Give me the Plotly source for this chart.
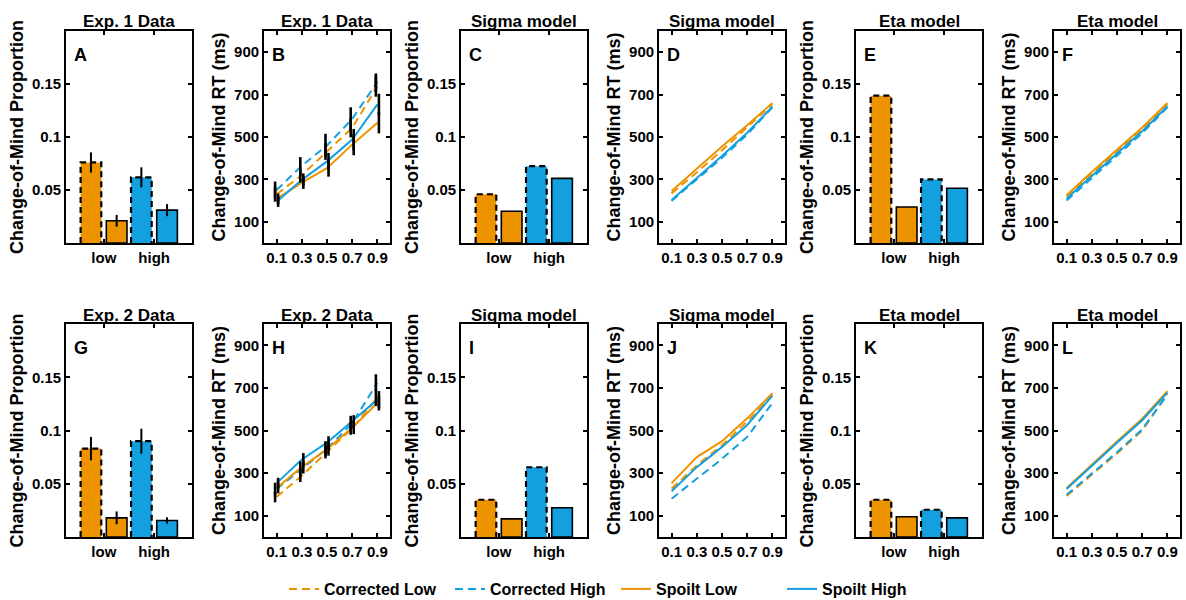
import plotly.graph_objects as go
from plotly.subplots import make_subplots

ORANGE = '#EE9300'
BLUE = '#14A0DF'
FONT = 'Liberation Sans, Arial, Helvetica, sans-serif'

# ---------------- data ----------------
conditions = ['low', 'high']
quantiles = [0.1, 0.3, 0.5, 0.7, 0.9]
q_ticklabels = ['0.1', '0.3', '0.5', '0.7', '0.9']
prop_ticks = [0.05, 0.1, 0.15]
prop_ticklabels = ['0.05', '0.1', '0.15']
rt_ticks = [100, 300, 500, 700, 900]

panel_letters = ['A', 'B', 'C', 'D', 'E', 'F', 'G', 'H', 'I', 'J', 'K', 'L']
panel_titles = ['Exp. 1 Data', 'Exp. 1 Data', 'Sigma model', 'Sigma model', 'Eta model', 'Eta model',
                'Exp. 2 Data', 'Exp. 2 Data', 'Sigma model', 'Sigma model', 'Eta model', 'Eta model']
series_names = ['Corrected Low', 'Corrected High', 'Spoilt Low', 'Spoilt High']

# Change-of-mind proportions [low, high]
A_corrected = [0.076, 0.062]
A_spoilt = [0.021, 0.031]
A_corrected_err = [0.0095, 0.0094]
A_spoilt_err = [0.0055, 0.0057]
C_corrected = [0.046, 0.0725]
C_spoilt = [0.030, 0.061]
E_corrected = [0.139, 0.060]
E_spoilt = [0.034, 0.0516]
G_corrected = [0.083, 0.090]
G_spoilt = [0.018, 0.0155]
G_corrected_err = [0.011, 0.0117]
G_spoilt_err = [0.006, 0.003]
I_corrected = [0.035, 0.0655]
I_spoilt = [0.017, 0.0275]
K_corrected = [0.035, 0.0256]
K_spoilt = [0.019, 0.018]

# Change-of-mind RT quantiles (ms)
B_corr_low = [230, 320, 432, 543, 740]
B_corr_high = [250, 365, 460, 585, 760]
B_spoilt_low = [208, 285, 353, 464, 567]
B_spoilt_high = [195, 298, 385, 488, 654]
B_corr_low_err = [35, 35, 40, 45, 50]
B_corr_high_err = [40, 40, 55, 55, 40]
B_spoilt_low_err = [25, 30, 40, 50, 50]
B_spoilt_high_err = [25, 30, 40, 50, 50]

D_corr_low = [234, 333, 437, 545, 655]
D_corr_high = [198, 298, 402, 512, 640]
D_spoilt_low = [245, 350, 455, 555, 660]
D_spoilt_high = [203, 305, 410, 520, 643]

F_corr_low = [220, 328, 432, 538, 655]
F_corr_high = [200, 305, 410, 518, 640]
F_spoilt_low = [225, 335, 440, 545, 660]
F_spoilt_high = [210, 318, 422, 527, 645]

H_corr_low = [188, 288, 399, 510, 655]
H_corr_high = [225, 320, 415, 534, 724]
H_spoilt_low = [230, 328, 412, 513, 629]
H_spoilt_high = [253, 364, 443, 542, 645]
H_corr_low_err = [25, 30, 30, 30, 40]
H_corr_high_err = [30, 35, 35, 35, 40]
H_spoilt_low_err = [25, 30, 30, 30, 35]
H_spoilt_high_err = [25, 30, 30, 30, 40]

J_corr_low = [228, 336, 431, 542, 665]
J_corr_high = [180, 272, 367, 470, 629]
J_spoilt_low = [253, 375, 450, 557, 675]
J_spoilt_high = [215, 328, 423, 526, 664]

L_corr_low = [193, 292, 392, 500, 672]
L_corr_high = [198, 298, 398, 505, 668]
L_spoilt_low = [230, 340, 448, 555, 685]
L_spoilt_high = [225, 335, 443, 548, 678]

# ---------------- layout geometry ----------------
FIG_W, FIG_H = 1186, 600
col_left_px = [66, 264, 461, 659, 856, 1054]
col_width_px = 126
row_top_px = [31, 324]
row_bottom_px = [243, 537]

BAR_OFF = 0.255
BAR_W = 0.41
ERR_OFF = 0.012
DASH = '8px,5px'

fig = make_subplots(rows=2, cols=6)

bold = dict(family=FONT, color='black', weight='bold')


def add_bars(row, col, corrected, spoilt, corrected_err=None, spoilt_err=None):
    colors = [ORANGE, BLUE]
    xs_c = [i + 1 - BAR_OFF for i in range(len(conditions))]
    xs_s = [i + 1 + BAR_OFF for i in range(len(conditions))]
    err_c = dict(type='data', array=corrected_err, color='black', thickness=2, width=0,
                 visible=corrected_err is not None)
    err_s = dict(type='data', array=spoilt_err, color='black', thickness=2, width=0,
                 visible=spoilt_err is not None)
    fig.add_trace(go.Bar(x=xs_c, y=corrected, width=BAR_W, marker=dict(color=colors, line=dict(width=0)),
                         error_y=err_c, showlegend=False, hoverinfo='y'), row=row, col=col)
    fig.add_trace(go.Bar(x=xs_s, y=spoilt, width=BAR_W,
                         marker=dict(color=colors, line=dict(width=1.6, color='black')),
                         error_y=err_s, showlegend=False, hoverinfo='y'), row=row, col=col)
    # dashed outlines for the corrected bars
    ox, oy = [], []
    for xc, v in zip(xs_c, corrected):
        x0, x1 = xc - BAR_W / 2, xc + BAR_W / 2
        ox += [x0, x0, x1, x1, None]
        oy += [0, v, v, 0, None]
    fig.add_trace(go.Scatter(x=ox, y=oy, mode='lines', line=dict(color='black', width=2.2, dash='6px,4px'),
                             showlegend=False, hoverinfo='skip'), row=row, col=col)


def add_lines(row, col, cl, ch, sl, sh, errs=None, legend=False):
    specs = [(cl, ORANGE, DASH), (ch, BLUE, DASH), (sl, ORANGE, 'solid'), (sh, BLUE, 'solid')]
    for name, (vals, color, dash) in zip(series_names, specs):
        fig.add_trace(go.Scatter(x=quantiles, y=vals, mode='lines', name=name, legendgroup=name,
                                 line=dict(color=color, width=2, dash=dash), showlegend=legend),
                      row=row, col=col)
    if errs is not None:
        for i, (vals, err) in enumerate(zip([cl, ch, sl, sh], errs)):
            off = -ERR_OFF if i < 2 else ERR_OFF
            fig.add_trace(go.Scatter(x=[q + off for q in quantiles], y=vals, mode='markers',
                                     marker=dict(size=2, color='black'),
                                     error_y=dict(type='data', array=err, color='black', thickness=2.6, width=0),
                                     showlegend=False, hoverinfo='skip'), row=row, col=col)


add_bars(1, 1, A_corrected, A_spoilt, A_corrected_err, A_spoilt_err)
add_lines(1, 2, B_corr_low, B_corr_high, B_spoilt_low, B_spoilt_high,
          [B_corr_low_err, B_corr_high_err, B_spoilt_low_err, B_spoilt_high_err], legend=True)
add_bars(1, 3, C_corrected, C_spoilt)
add_lines(1, 4, D_corr_low, D_corr_high, D_spoilt_low, D_spoilt_high)
add_bars(1, 5, E_corrected, E_spoilt)
add_lines(1, 6, F_corr_low, F_corr_high, F_spoilt_low, F_spoilt_high)
add_bars(2, 1, G_corrected, G_spoilt, G_corrected_err, G_spoilt_err)
add_lines(2, 2, H_corr_low, H_corr_high, H_spoilt_low, H_spoilt_high,
          [H_corr_low_err, H_corr_high_err, H_spoilt_low_err, H_spoilt_high_err])
add_bars(2, 3, I_corrected, I_spoilt)
add_lines(2, 4, J_corr_low, J_corr_high, J_spoilt_low, J_spoilt_high)
add_bars(2, 5, K_corrected, K_spoilt)
add_lines(2, 6, L_corr_low, L_corr_high, L_spoilt_low, L_spoilt_high)

annotations = []
for r in range(2):
    for c in range(6):
        idx = r * 6 + c
        n = idx + 1
        xd = [col_left_px[c] / FIG_W, (col_left_px[c] + col_width_px) / FIG_W]
        yd = [1 - row_bottom_px[r] / FIG_H, 1 - row_top_px[r] / FIG_H]
        is_bar = (c % 2 == 0)
        common = dict(showline=True, linecolor='black', linewidth=1.8, mirror='ticks', ticks='inside',
                      ticklen=4, tickwidth=1.5, tickcolor='black', showgrid=False, zeroline=False,
                      tickfont=dict(size=15, **bold))
        xa = dict(domain=xd, **common)
        ya = dict(domain=yd, **common)
        if is_bar:
            xa.update(range=[0.25, 2.75], tickvals=[1, 2], ticktext=conditions)
            ya.update(range=[0, 0.2], tickvals=prop_ticks, ticktext=prop_ticklabels,
                      title=dict(text='Change-of-Mind Proportion', font=dict(size=18, **bold), standoff=4))
        else:
            xa.update(range=[0, 1], tickvals=quantiles, ticktext=q_ticklabels)
            ya.update(range=[0, 1000], tickvals=rt_ticks,
                      title=dict(text='Change-of-Mind RT (ms)', font=dict(size=18, **bold), standoff=4))
        key = '' if n == 1 else str(n)
        fig.update_layout(**{'xaxis' + key: xa, 'yaxis' + key: ya})
        # panel title
        annotations.append(dict(text=panel_titles[idx], x=(xd[0] + xd[1]) / 2, xref='paper',
                                y=yd[1], yref='paper', yshift=9, xanchor='center', yanchor='middle',
                                showarrow=False, font=dict(size=17, **bold)))
        # panel letter
        annotations.append(dict(text=panel_letters[idx], x=0.045, xref='x' + key + ' domain',
                                y=0.885, yref='y' + key + ' domain', xanchor='left', yanchor='middle',
                                showarrow=False, font=dict(size=18, **bold)))

fig.update_layout(
    width=FIG_W, height=FIG_H,
    margin=dict(l=0, r=0, t=0, b=0, autoexpand=False),
    plot_bgcolor='white', paper_bgcolor='white',
    barmode='overlay',
    font=dict(family=FONT, color='black'),
    annotations=annotations,
    legend=dict(orientation='h', x=284 / FIG_W, y=1 - 589 / FIG_H, xanchor='left', yanchor='middle',
                entrywidth=121, entrywidthmode='pixels', font=dict(size=16, **bold),
                bgcolor='rgba(0,0,0,0)', itemwidth=30, traceorder='normal'),
)

fig.write_html('out.html', config={'displayModeBar': False},
               post_script="document.body.style.margin='0';document.body.style.overflow='hidden';")
